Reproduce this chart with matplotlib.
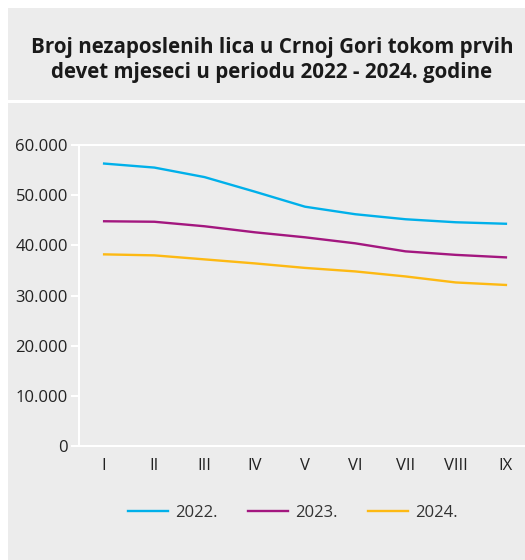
import matplotlib.pyplot as plt
from matplotlib.patches import Rectangle
from matplotlib.ticker import FuncFormatter

months = ['I', 'II', 'III', 'IV', 'V', 'VI', 'VII', 'VIII', 'IX']
y2022 = [56300, 55500, 53600, 50700, 47700, 46200, 45200, 44600, 44300]
y2023 = [44800, 44700, 43800, 42600, 41600, 40400, 38800, 38100, 37600]
y2024 = [38200, 38000, 37200, 36400, 35500, 34800, 33800, 32600, 32100]

plt.rcParams['font.family'] = ['Open Sans', 'DejaVu Sans']

fig = plt.figure(figsize=(5.25, 5.6), dpi=100, facecolor='white')

# grey panels behind title and chart
bg = '#ececec'
fig.patches.append(Rectangle((8/525, 1 - 100/560), 1, 92/560, transform=fig.transFigure,
                             facecolor=bg, edgecolor='none', zorder=-10))
fig.patches.append(Rectangle((8/525, 0), 1, 1 - 103/560, transform=fig.transFigure,
                             facecolor=bg, edgecolor='none', zorder=-10))

fig.text(0.518, 1 - 60/560, 'Broj nezaposlenih lica u Crnoj Gori tokom prvih\ndevet mjeseci u periodu 2022 - 2024. godine',
         ha='center', va='center', fontsize=14.8, fontweight='bold', color='#1a1a1a', linespacing=1.3)

ax = fig.add_axes([79/525, 1 - 446/560, 1 - 79/525, 301/560])
ax.set_facecolor(bg)

x = range(len(months))
ax.plot(x, y2022, color='#00b0ea', lw=1.7, label='2022.')
ax.plot(x, y2023, color='#a3177f', lw=1.7, label='2023.')
ax.plot(x, y2024, color='#fdb913', lw=1.7, label='2024.')

ax.set_xlim(-0.5, 8.38)
ax.set_ylim(0, 60000)
ax.set_yticks(range(0, 60001, 10000))
ax.yaxis.set_major_formatter(FuncFormatter(lambda v, p: f'{int(v):,}'.replace(',', '.')))
ax.set_xticks(list(x))
ax.set_xticklabels(months)

for s in ['left', 'bottom', 'top']:
    ax.spines[s].set_color('white')
    ax.spines[s].set_linewidth(1.5)
ax.spines['right'].set_visible(False)
ax.tick_params(axis='y', colors='white', length=6, width=1.5, labelcolor='#222222', labelsize=12, pad=2)
ax.tick_params(axis='x', length=0, labelcolor='#222222', labelsize=12, pad=9)

fig.legend(loc='center', bbox_to_anchor=(0.558, 1 - 513/560), ncol=3, frameon=False,
           fontsize=12, handlelength=2.4, handletextpad=0.45, columnspacing=1.8,
           labelcolor='#333333')

plt.savefig('out.png', dpi=100, facecolor='white')
